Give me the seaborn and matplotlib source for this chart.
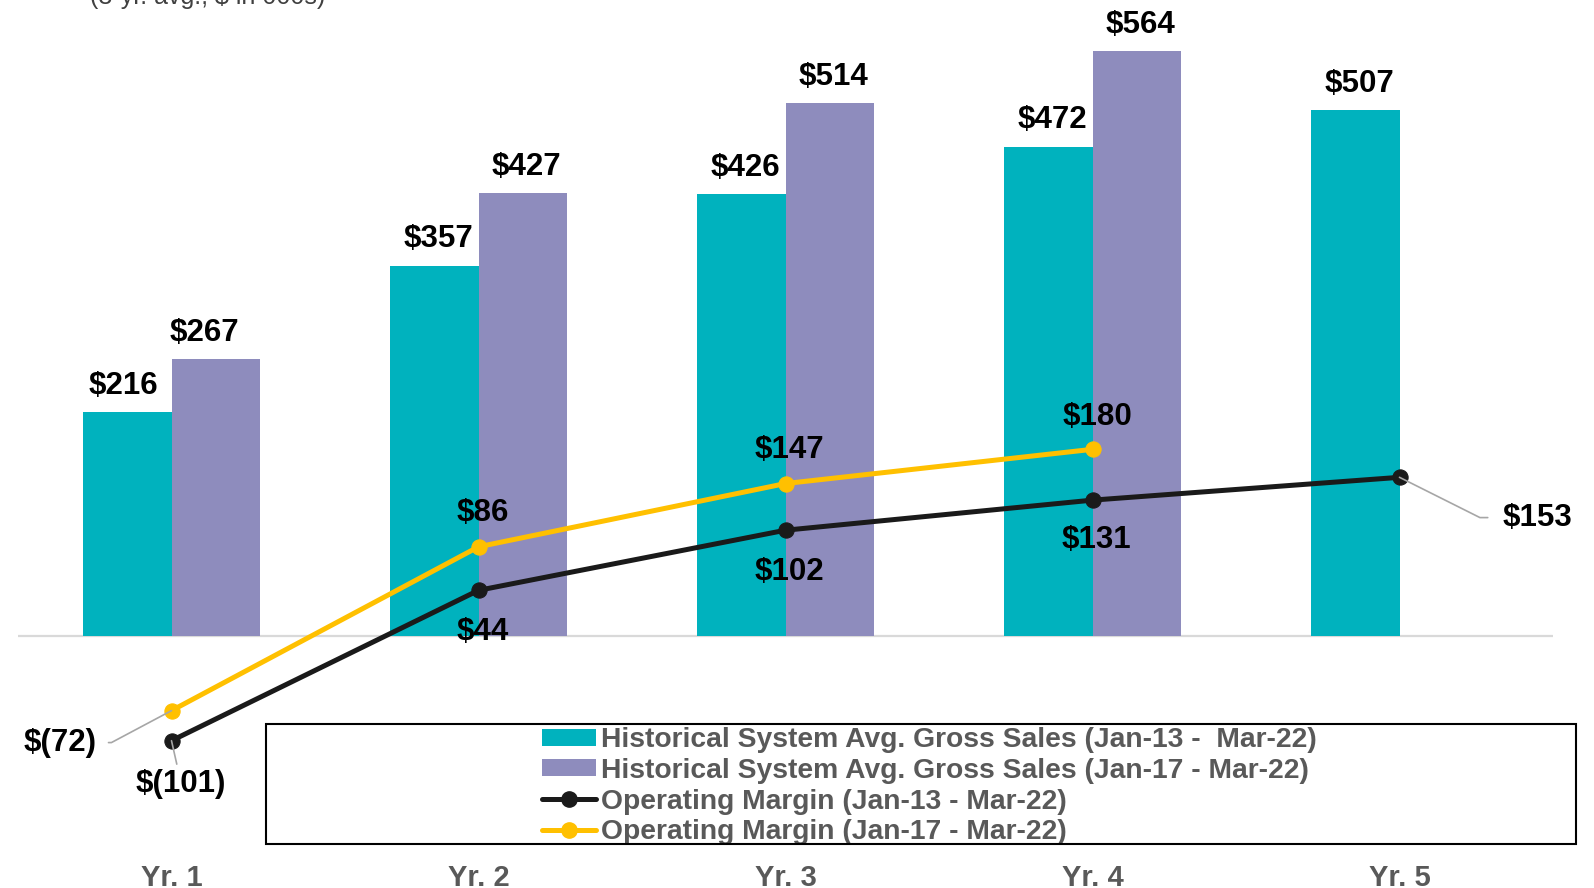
import matplotlib
matplotlib.use("Agg")
import matplotlib.pyplot as plt
from matplotlib.patches import Patch, Rectangle
from matplotlib.lines import Line2D
import seaborn as sns
import pandas as pd
import numpy as np

sns.set_theme(style="white")
plt.rcParams["font.family"] = ["Liberation Sans", "DejaVu Sans"]

# data ($ in 000s)
years = ["Yr. 1", "Yr. 2", "Yr. 3", "Yr. 4", "Yr. 5"]
sales_13 = [216, 357, 426, 472, 507]
sales_17 = [267, 427, 514, 564, np.nan]
margin_13 = [-101, 44, 102, 131, 153]
margin_17 = [-72, 86, 147, 180]

lbl_sales_13 = "Historical System Avg. Gross Sales (Jan-13 -  Mar-22)"
lbl_sales_17 = "Historical System Avg. Gross Sales (Jan-17 - Mar-22)"
lbl_margin_13 = "Operating Margin (Jan-13 - Mar-22)"
lbl_margin_17 = "Operating Margin (Jan-17 - Mar-22)"

TEAL = "#00B2BE"
PURPLE = "#8E8CBD"
BLACK = "#1A1A1A"
YELLOW = "#FFC000"
GRAY_TXT = "#595959"
LEADER = "#A6A6A6"


def money(v):
    return f"${v:,.0f}" if v >= 0 else f"$({-v:,.0f})"


df = pd.DataFrame({
    "year": years * 2,
    "series": [lbl_sales_13] * len(years) + [lbl_sales_17] * len(years),
    "sales": sales_13 + sales_17,
})

W, H = 1594, 888
fig = plt.figure(figsize=(W / 100, H / 100), dpi=100)
ax = fig.add_axes([18 / W, 1 - 850 / H, 1535 / W, 850 / H])

sns.barplot(data=df, x="year", y="sales", hue="series", order=years,
            hue_order=[lbl_sales_13, lbl_sales_17],
            palette=[TEAL, PURPLE], saturation=1, width=0.574, linewidth=0,
            legend=False, ax=ax, zorder=2)

ax.axhline(0, color="#D9D9D9", lw=1.6, zorder=1)

# bar value labels (first year's labels sit a little left in the original)
bar_dx = {0: [-3, -8]}
for k, cont in enumerate(ax.containers):
    for j, p in enumerate(cont.patches):
        h = p.get_height()
        if np.isnan(h):
            continue
        dx = bar_dx.get(j, [3, 3])[k]
        ax.annotate(money(h), (p.get_x() + p.get_width() / 2, h),
                    xytext=(dx, 19), textcoords="offset points",
                    ha="center", va="center", fontsize=22.5,
                    fontweight="bold", color="black", zorder=5)

# operating margin lines
x13 = np.arange(len(margin_13))
x17 = np.arange(len(margin_17))
sns.lineplot(x=x13, y=margin_13, color=BLACK, lw=3.6, marker="o",
             markersize=11, markeredgecolor=BLACK, ax=ax, zorder=4)
sns.lineplot(x=x17, y=margin_17, color=YELLOW, lw=3.6, marker="o",
             markersize=11, markeredgecolor=YELLOW, ax=ax, zorder=4)

txt_kw = dict(textcoords="offset points", ha="center", va="center",
              fontsize=22.5, fontweight="bold", color="black", zorder=6)

# offsets (points) of each line label from its marker
off_13 = [(7, -31), (3, -30), (3, -30), (3, -29), (99, -29)]
off_17 = [(-80, -23), (3, 24), (3, 24), (3.5, 23.5)]

for i, v in enumerate(margin_13):
    arrow = None
    if i == 0:
        arrow = dict(arrowstyle="-", color=LEADER, lw=1.2, shrinkA=1, shrinkB=0)
    elif i == len(margin_13) - 1:
        arrow = dict(arrowstyle="-", color=LEADER, lw=1.2, shrinkA=8, shrinkB=0,
                     connectionstyle="angle,angleA=0,angleB=-26.6")
    ax.annotate(money(v), (x13[i], v), xytext=off_13[i], arrowprops=arrow, **txt_kw)

for i, v in enumerate(margin_17):
    arrow = None
    if i == 0:
        arrow = dict(arrowstyle="-", color=LEADER, lw=1.2, shrinkA=6, shrinkB=0,
                     connectionstyle="angle,angleA=0,angleB=28")
    ax.annotate(money(v), (x17[i], v), xytext=off_17[i], arrowprops=arrow, **txt_kw)

ax.set_xlim(-0.5, 4.5)
ax.set_ylim(-206.4, 613.3)
ax.set_xlabel("")
ax.set_ylabel("")
ax.set_yticks([])
ax.set_xticks(range(len(years)))
ax.set_xticklabels(years, fontsize=21, fontweight="bold", color=GRAY_TXT)
ax.tick_params(axis="x", length=0, pad=10)
for s in ax.spines.values():
    s.set_visible(False)
ax.patch.set_alpha(0)

# legend
handles = [
    Patch(facecolor=TEAL, edgecolor="none"),
    Patch(facecolor=PURPLE, edgecolor="none"),
    Line2D([0], [0], color=BLACK, lw=3.6, marker="o", markersize=11),
    Line2D([0], [0], color=YELLOW, lw=3.6, marker="o", markersize=11),
]
labels = [lbl_sales_13, lbl_sales_17, lbl_margin_13, lbl_margin_17]
ax.legend(handles, labels, loc="upper left",
          bbox_to_anchor=(542 / W, 1 - 727 / H), bbox_transform=fig.transFigure,
          frameon=False, prop={"size": 20.3, "weight": "bold"}, labelcolor=GRAY_TXT,
          handlelength=1.9, handleheight=0.55, handletextpad=0.18,
          labelspacing=0.17, borderpad=0, borderaxespad=0)
fig.add_artist(Rectangle((266 / W, 1 - 844 / H), 1310 / W, 120 / H,
                         transform=fig.transFigure, fill=False,
                         edgecolor="black", lw=1.5))

# subtitle, cut off at the top edge as in the original
fig.text(90 / W, 1 - 4 / H, "(3-yr. avg.; $ in 000s)", fontsize=18,
         color="#404040", ha="left", va="baseline")

fig.savefig("out.png", dpi=100)
